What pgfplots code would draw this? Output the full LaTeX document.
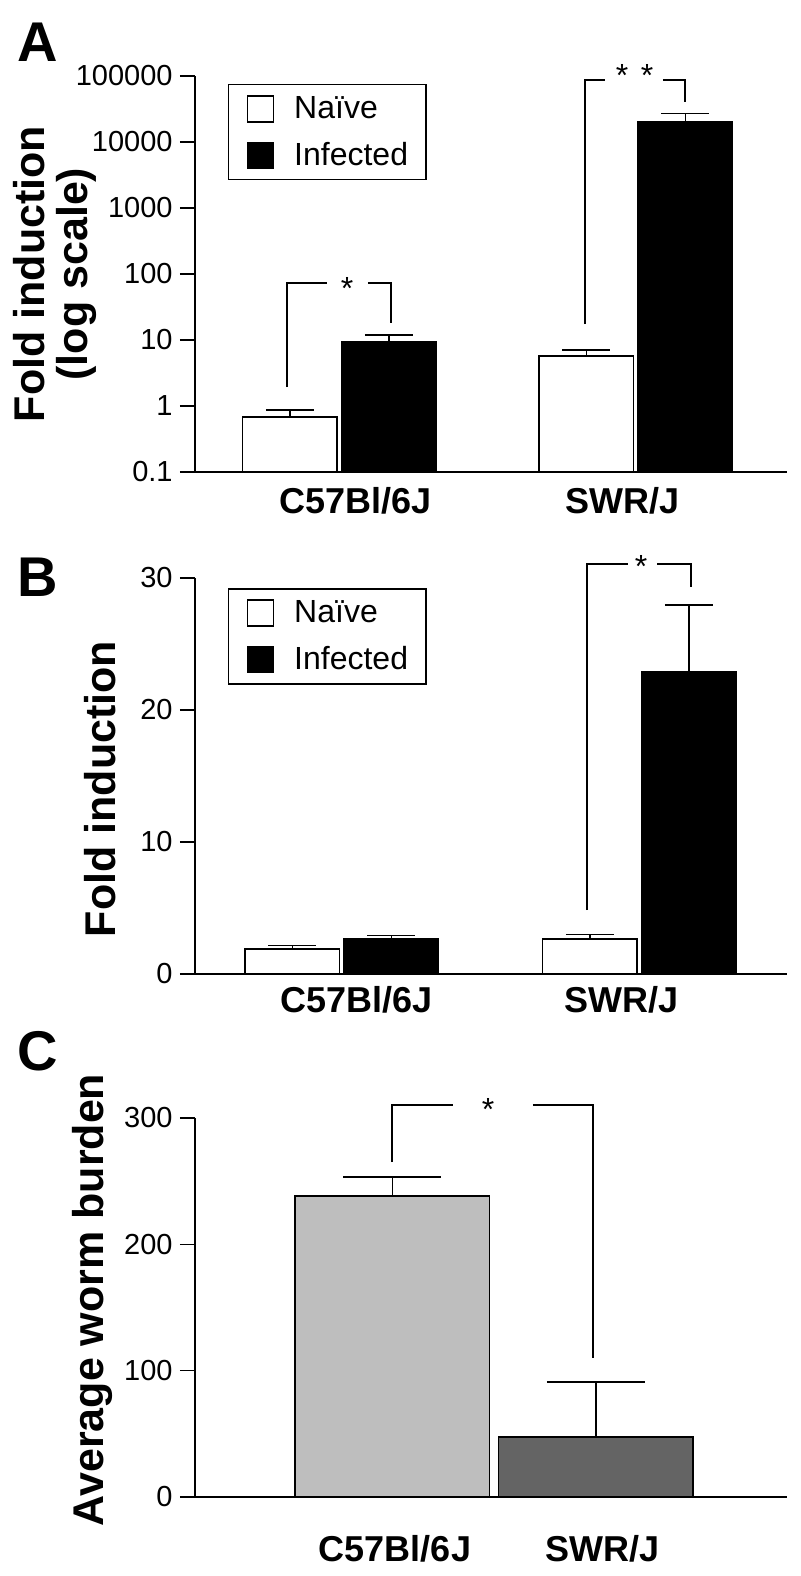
\documentclass[border=0pt]{standalone}
\usepackage{fontspec}
\setmainfont{Liberation Sans}
\usepackage{pgfplots}
\pgfplotsset{compat=1.18}
\definecolor{lightbar}{HTML}{BEBEBE}
\definecolor{darkbar}{HTML}{646464}
\newcommand{\ytl}[1]{\textrm{\fontsize{14.5}{14.5}\selectfont #1}}
\pgfplotsset{
  panel/.style={
    scale only axis,
    width=296pt,
    axis lines=left,
    axis line style={-, line width=0.75pt},
    tick align=outside,
    major tick length=7.5pt,
    tick style={line width=0.75pt, black},
    xtick style={draw=none},
    /pgf/number format/assume math mode=true,
    yticklabel style={inner sep=0pt, xshift=-3.5pt},
    xticklabel style={font=\bfseries\fontsize{18}{18}\selectfont, anchor=base, inner sep=0pt},
    clip=false,
  },
  sqleg/.style={
    legend image code/.code={\draw[##1, line width=0.75pt] (0pt,-6.5pt) rectangle (13pt,6.5pt); \path (23pt,0pt);},
    legend cell align=left,
    legend style={at={(0.0557,#1)}, anchor=north west, draw=black, line width=0.75pt,
      font=\fontsize{16}{16}\selectfont, inner xsep=9pt, inner ysep=5.25pt, row sep=9.5pt,
      nodes={inner sep=0pt}},
  },
}
\begin{document}
\begin{tikzpicture}
\path[use as bounding box] (0,0) rectangle (400pt,788pt);
% ---------------- Panel A ----------------
\begin{axis}[panel, at={(97.5pt,552pt)}, anchor=south west, height=198pt,
  ymode=log, log origin y=infty, ymin=0.1, ymax=100000, yminorticks=false,
  ytick={0.1,1,10,100,1000,10000,100000},
  yticklabels={\ytl{0.1},\ytl{1},\ytl{10},\ytl{100},\ytl{1000},\ytl{10000},\ytl{100000}},
  xmin=-0.487, xmax=1.5097,
  ybar=2.25pt, bar width=47.25pt,
  xtick={0.0556,0.9545}, xticklabels={C57Bl/6J,SWR/J},
  xticklabel style={yshift=-13.5pt},
  sqleg=0.9798,
]
\addplot[fill=white, draw=black, line width=0.75pt,
  error bars/.cd, y dir=plus, y explicit,
  error bar style={line width=0.75pt, black},
  error mark options={rotate=90, mark size=12pt, line width=0.75pt, black}]
  coordinates {(0,0.68) +- (0,0.19) (1,5.75) +- (0,1.35)};
\addplot[fill=black, draw=black, line width=0.75pt,
  error bars/.cd, y dir=plus, y explicit,
  error bar style={line width=0.75pt, black},
  error mark options={rotate=90, mark size=12pt, line width=0.75pt, black}]
  coordinates {(0,9.4) +- (0,2.6) (1,20460) +- (0,6340)};
\legend{Naïve, Infected}
\draw[line width=0.7pt] (rel axis cs:0.1554,0.2146) |- (rel axis cs:0.2230,0.4773);
\draw[line width=0.7pt] (rel axis cs:0.2922,0.4773) -| (rel axis cs:0.3311,0.3763);
\node[font=\fontsize{16}{16}\selectfont, anchor=base, inner sep=0pt] at (rel axis cs:0.2568,0.4356) {*};
\draw[line width=0.7pt] (rel axis cs:0.6588,0.3737) |- (rel axis cs:0.6926,0.9899);
\draw[line width=0.7pt] (rel axis cs:0.7905,0.9899) -| (rel axis cs:0.8277,0.9343);
\node[font=\fontsize{16}{16}\selectfont, anchor=base, inner sep=0pt] at (rel axis cs:0.7213,0.9735) {*};
\node[font=\fontsize{16}{16}\selectfont, anchor=base, inner sep=0pt] at (rel axis cs:0.7635,0.9735) {*};
\node[rotate=90, align=center, font=\bfseries\fontsize{21.5}{21.5}\selectfont, inner sep=0pt]
  at (axis description cs:-0.2365,0.5) {Fold induction\\(log scale)};
\end{axis}
% ---------------- Panel B ----------------
\begin{axis}[panel, at={(97.5pt,301pt)}, anchor=south west, height=198pt,
  ymin=0, ymax=30, ytick={0,10,20,30}, yticklabels={\ytl{0},\ytl{10},\ytl{20},\ytl{30}},
  xmin=-0.494, xmax=1.4958,
  ybar=2.25pt, bar width=47.25pt,
  xtick={0.0504,0.941}, xticklabels={C57Bl/6J,SWR/J},
  xticklabel style={yshift=-12pt},
  sqleg=0.9747,
]
\addplot[fill=white, draw=black, line width=0.75pt,
  error bars/.cd, y dir=plus, y explicit,
  error bar style={line width=0.75pt, black},
  error mark options={rotate=90, mark size=12pt, line width=0.75pt, black}]
  coordinates {(0,1.89) +- (0,0.25) (1,2.65) +- (0,0.35)};
\addplot[fill=black, draw=black, line width=0.75pt,
  error bars/.cd, y dir=plus, y explicit,
  error bar style={line width=0.75pt, black},
  error mark options={rotate=90, mark size=12pt, line width=0.75pt, black}]
  coordinates {(0,2.65) +- (0,0.25) (1,22.9) +- (0,5.05)};
\legend{Naïve, Infected}
\draw[line width=0.7pt] (rel axis cs:0.6622,0.1616) |- (rel axis cs:0.7314,1.0354);
\draw[line width=0.7pt] (rel axis cs:0.7804,1.0354) -| (rel axis cs:0.8378,0.9773);
\node[font=\fontsize{16}{16}\selectfont, anchor=base, inner sep=0pt] at (rel axis cs:0.7534,1.0013) {*};
\node[rotate=90, anchor=base, font=\bfseries\fontsize{21.5}{21.5}\selectfont, inner sep=0pt]
  at (axis description cs:-0.1351,0.467) {Fold induction};
\end{axis}
% ---------------- Panel C ----------------
\begin{axis}[panel, at={(97.5pt,39.5pt)}, anchor=south west, height=189.5pt,
  ymin=0, ymax=300, ytick={0,100,200,300}, yticklabels={\ytl{0},\ytl{100},\ytl{200},\ytl{300}},
  xmin=-0.9705, xmax=1.9386,
  ybar, bar width=97.25pt,
  xtick={0.0123,1.034}, xticklabels={C57Bl/6J,SWR/J},
  xticklabel style={yshift=-24.5pt},
]
\addplot[fill=lightbar, draw=black, line width=0.75pt, bar shift=0pt,
  error bars/.cd, y dir=plus, y explicit,
  error bar style={line width=0.75pt, black},
  error mark options={rotate=90, mark size=24.5pt, line width=0.75pt, black}]
  coordinates {(0,238.3) +- (0,15)};
\addplot[fill=darkbar, draw=black, line width=0.75pt, bar shift=0pt,
  error bars/.cd, y dir=plus, y explicit,
  error bar style={line width=0.75pt, black},
  error mark options={rotate=90, mark size=24.5pt, line width=0.75pt, black}]
  coordinates {(1,47.5) +- (0,43.5)};
\draw[line width=0.7pt] (rel axis cs:0.3328,0.8839) |- (rel axis cs:0.4358,1.0343);
\draw[line width=0.7pt] (rel axis cs:0.5709,1.0343) -| (rel axis cs:0.6723,0.3668);
\node[font=\fontsize{16}{16}\selectfont, anchor=base, inner sep=0pt] at (rel axis cs:0.4949,0.9934) {*};
\node[rotate=90, anchor=base, font=\bfseries\fontsize{21.5}{21.5}\selectfont, inner sep=0pt]
  at (axis description cs:-0.1554,0.52) {Average worm burden};
\end{axis}
% panel letters
\node[anchor=base west, font=\bfseries\fontsize{28}{28}\selectfont, inner sep=0pt] at (8.5pt,757pt) {A};
\node[anchor=base west, font=\bfseries\fontsize{28}{28}\selectfont, inner sep=0pt] at (8.5pt,489.5pt) {B};
\node[anchor=base west, font=\bfseries\fontsize{28}{28}\selectfont, inner sep=0pt] at (8.5pt,252.5pt) {C};
\end{tikzpicture}
\end{document}
